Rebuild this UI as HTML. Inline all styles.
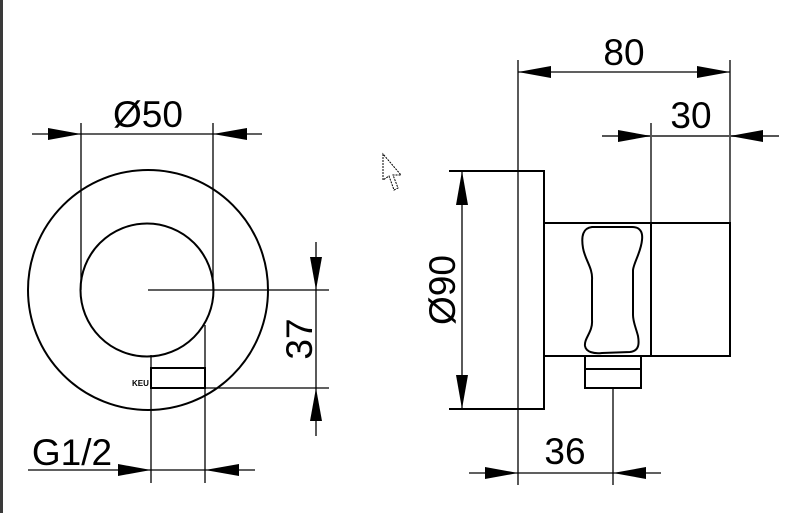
<!DOCTYPE html>
<html><head><style>
body{margin:0;background:#fff;}
svg{display:block}
text{font-family:"Liberation Sans",sans-serif;fill:#000;}
</style></head><body>
<svg width="800" height="513" viewBox="0 0 800 513" xmlns="http://www.w3.org/2000/svg">
<rect x="0" y="0" width="3" height="513" fill="#3a3a3a"/>
<g stroke="#000" stroke-width="1.3" fill="none">
<circle cx="148" cy="290" r="120" stroke-width="2"/>
<circle cx="147" cy="290" r="66.5" stroke-width="2"/>
<line x1="81" y1="123" x2="81" y2="290"/>
<line x1="213" y1="123" x2="213" y2="290"/>
<line x1="32" y1="134" x2="262" y2="134"/>
<line x1="148" y1="290" x2="329" y2="290"/>
<line x1="316" y1="242" x2="316" y2="436"/>
<line x1="205" y1="388" x2="329" y2="388"/>
<line x1="151" y1="355" x2="151" y2="483"/>
<line x1="205" y1="325" x2="205" y2="483"/>
<rect x="151" y="368" width="54" height="20" stroke-width="2"/>
<line x1="28" y1="470" x2="255" y2="470"/>
<line x1="518" y1="60" x2="518" y2="485"/>
<line x1="730" y1="60" x2="730" y2="223"/>
<line x1="651" y1="123" x2="651" y2="223"/>
<line x1="518" y1="72" x2="730" y2="72"/>
<line x1="602" y1="136" x2="779" y2="136" stroke="#555" stroke-width="2"/>
<path d="M449 171 H544 V409 H449" stroke-width="2"/>
<line x1="462" y1="171" x2="462" y2="409"/>
<rect x="544" y="223" width="186" height="133" stroke-width="2"/>
<line x1="651" y1="223" x2="651" y2="356" stroke-width="2"/>
<path d="M592 227 C583 228 581 236 583 248 C585 260 593 268 592 280 L592 320 C593 332 584 338 585 346 C586 352 594 354 602 353 L630 352 C640 351 639 342 638 336 C636 328 633 322 633 315 L633 270 C634 262 641 252 642 240 C643 232 640 227 632 227 Z" stroke-width="2"/>
<rect x="585" y="356" width="56" height="32" stroke-width="2"/>
<line x1="585" y1="369" x2="641" y2="369" stroke-width="2"/>
<line x1="613" y1="388" x2="613" y2="485"/>
<line x1="469" y1="473" x2="661" y2="473"/>
</g>
<g fill="#000">
<polygon points="81,134 48,128 48,140"/>
<polygon points="213,134 247,128 247,140"/>
<polygon points="316,290 310,257 322,257"/>
<polygon points="316,388 310,421 322,421"/>
<polygon points="151,470 118,464 118,476"/>
<polygon points="205,470 239,464 239,476"/>
<polygon points="518,72 551,66 551,78"/>
<polygon points="730,72 697,66 697,78"/>
<polygon points="651,136 618,130 618,142"/>
<polygon points="730,136 763,130 763,142"/>
<polygon points="462,171 456,205 468,205"/>
<polygon points="462,409 456,375 468,375"/>
<polygon points="518,473 485,467 485,479"/>
<polygon points="613,473 646,467 646,479"/>
</g>
<g font-size="37" text-anchor="middle">
<text x="148" y="127">Ø50</text>
<text x="72" y="465">G1/2</text>
<text x="624" y="65">80</text>
<text x="691" y="128">30</text>
<text x="565" y="464">36</text>
<text transform="translate(312,339) rotate(-90)">37</text>
<text transform="translate(455,290) rotate(-90)">Ø90</text>
</g>
<text x="132" y="386" font-size="8" font-weight="bold">KEU</text>
<path d="M383 154 L383 180 L389 176 L394 190 L398 188 L393 175 L401 175 Z" fill="#fff" stroke="#000" stroke-width="1" stroke-dasharray="2,1"/>
</svg>
</body></html>
